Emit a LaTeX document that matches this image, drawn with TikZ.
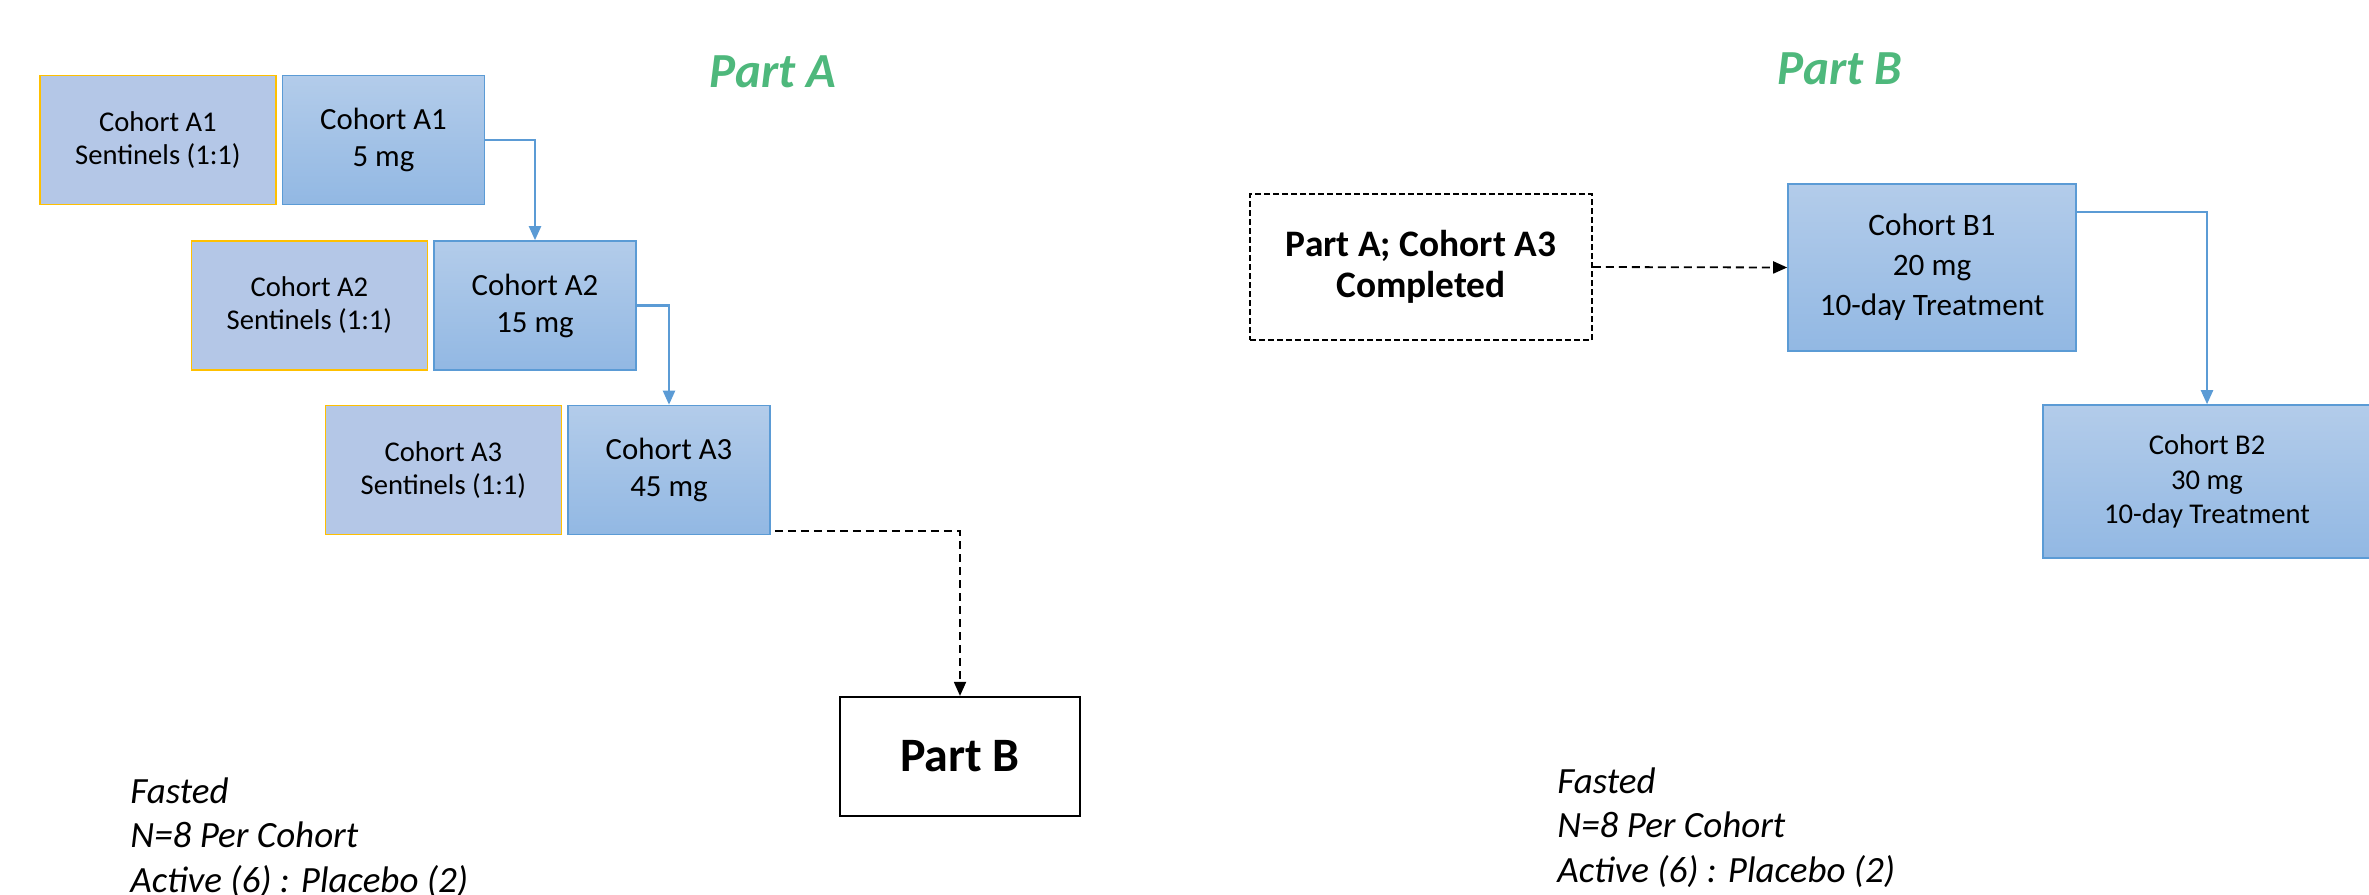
\documentclass[tikz,border=0pt]{standalone}
\usepackage{fontspec}
\setmainfont{Carlito}
\usetikzlibrary{arrows.meta,positioning}

\definecolor{boxtop}{RGB}{179,204,234}
\definecolor{boxbot}{RGB}{146,184,227}
\definecolor{sentfill}{RGB}{180,199,231}
\definecolor{edgeblue}{RGB}{91,155,213}
\definecolor{gold}{RGB}{255,192,0}
\definecolor{titlegreen}{RGB}{78,184,124}

\begin{document}
\begin{tikzpicture}[x=0.5pt, y=-0.5pt, >={Triangle[length=7pt,width=6pt]}]
\tikzset{
  base/.style={draw, align=center, line width=0.8pt, inner sep=2pt},
  cohort/.style={base, draw=edgeblue, top color=boxtop, bottom color=boxbot, minimum width=101pt, minimum height=64.5pt, font=\fontsize{15.4}{18.5}\selectfont},
  sentinel/.style={base, draw=gold, fill=sentfill, minimum width=118pt, minimum height=64.5pt, font=\fontsize{14.3}{16.5}\selectfont},
  cohortb/.style={base, draw=edgeblue, top color=boxtop, bottom color=boxbot, font=\fontsize{15.6}{20}\selectfont},
  donebox/.style={base, draw=black, dash pattern=on 3pt off 1.5pt, line width=0.9pt, minimum width=171pt, minimum height=73pt, font=\fontsize{18.7}{20.5}\selectfont\bfseries},
  partbox/.style={base, draw=black, line width=1.1pt, minimum width=120pt, minimum height=59.5pt, font=\fontsize{24}{28}\selectfont\bfseries},
  parttitle/.style={text=titlegreen, font=\fontsize{24.5}{29}\selectfont\bfseries\itshape},
  notes/.style={align=left, inner sep=0pt, anchor=north west, font=\fontsize{18.5}{22.3}\selectfont\itshape},
  arrow_blue/.style={->, draw=edgeblue, line width=1.1pt},
  arrow_dash/.style={->, draw=black, dash pattern=on 4pt off 2.5pt, line width=0.9pt},
}
\useasboundingbox (0,0) rectangle (2369,894);

% Part A
\node (titleA) [parttitle] at (773,72) {Part A};
\node (cA1) [cohort] at (383.5,140) {Cohort A1\\5 mg};
\node (sA1) [sentinel, left=2.5pt of cA1] {Cohort A1\\Sentinels (1:1)};
\node (cA2) [cohort] at (535,305.5) {Cohort A2\\15 mg};
\node (sA2) [sentinel, left=2.5pt of cA2] {Cohort A2\\Sentinels (1:1)};
\node (cA3) [cohort] at (669,470) {Cohort A3\\45 mg};
\node (sA3) [sentinel, left=2.5pt of cA3] {Cohort A3\\Sentinels (1:1)};
\node (partB) [partbox] at (960,756.5) {Part B};

\draw[arrow_blue] (cA1.east) -| (cA2.north);
\draw[arrow_blue] (cA2.east) -| (cA3.north);
\draw[arrow_dash] ([xshift=2pt,yshift=2pt]cA3.south east) -| (partB.north);

\node (notesA) [notes] at (130,777) {Fasted\\N=8 Per Cohort\\Active (6) : Placebo (2)};

% Part B
\node (titleB) [parttitle] at (1840,69) {Part B};
\node (done) [donebox] at (1421,267) {Part A; Cohort A3\\Completed};
\node (B1) [cohortb, minimum width=144pt, minimum height=83.5pt] at (1932,267.5) {Cohort B1\\20 mg\\10-day Treatment};
\node (B2) [cohortb, minimum width=164pt, minimum height=76.5pt, font=\fontsize{14.3}{17.4}\selectfont] at (2207,481.5) {Cohort B2\\30 mg\\10-day Treatment};

\draw[arrow_dash] (done.east) -- (B1.west);
\draw[arrow_blue] ([yshift=27.75pt]B1.east) -| (B2.north);

\node (notesB) [notes] at (1557,767) {Fasted\\N=8 Per Cohort\\Active (6) : Placebo (2)};

\end{tikzpicture}
\end{document}
